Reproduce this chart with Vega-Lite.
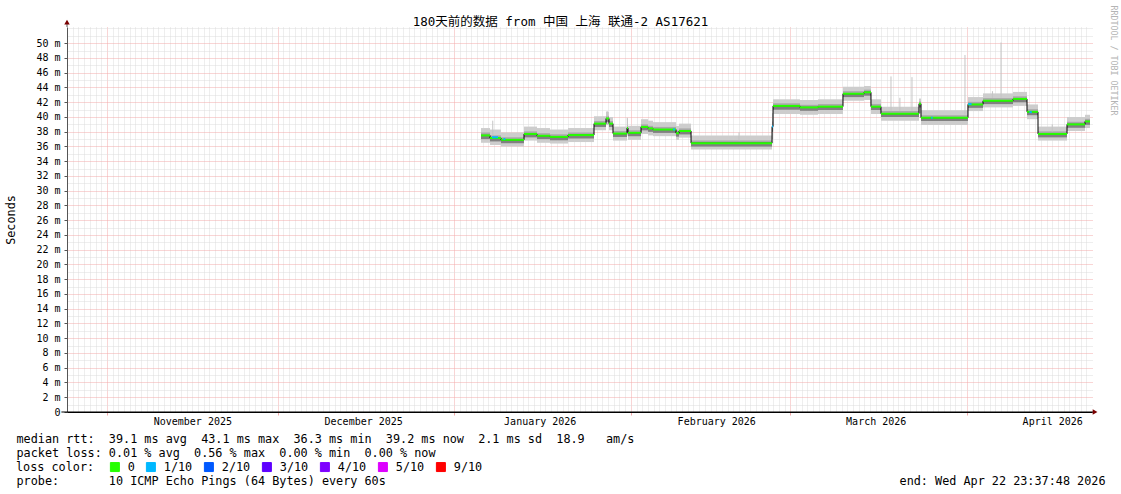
{
  "$schema": "https://vega.github.io/schema/vega-lite/v6.json",
  "width": 1025,
  "height": 385,
  "autosize": "none",
  "padding": {"left": 67, "top": 27, "right": 29, "bottom": 82},
  "background": "white",
  "config": {"view": {"stroke": null}, "font": "DejaVu Sans Mono"},
  "title": {"text": "180天前的数据 from 中国 上海 联通-2 AS17621", "font": "DejaVu Sans Mono, Noto Sans CJK SC", "fontSize": 12.5, "fontWeight": "normal", "color": "#000", "anchor": "middle", "frame": "group", "dx": -19, "dy": 27, "offset": 4},
  "datasets": {
    "seg": [
      {"t": "2026-01-05T16:32:00Z", "t2": "2026-01-07T06:27:00Z", "med": 37.5, "min": 36.5, "max": 38.5, "q1": 37.0, "q3": 37.9, "loss": "0"},
      {"t": "2026-01-07T06:27:00Z", "t2": "2026-01-09T04:49:00Z", "med": 37.15, "min": 36.2, "max": 38.3, "q1": 36.7, "q3": 37.5, "loss": "0"},
      {"t": "2026-01-09T04:49:00Z", "t2": "2026-01-13T05:45:00Z", "med": 36.9, "min": 36.0, "max": 37.9, "q1": 36.45, "q3": 37.25, "loss": "0"},
      {"t": "2026-01-13T05:45:00Z", "t2": "2026-01-15T12:33:00Z", "med": 37.7, "min": 36.8, "max": 38.7, "q1": 37.25, "q3": 38.05, "loss": "0"},
      {"t": "2026-01-15T12:33:00Z", "t2": "2026-01-17T19:20:00Z", "med": 37.45, "min": 36.5, "max": 38.5, "q1": 37.0, "q3": 37.8, "loss": "0"},
      {"t": "2026-01-17T19:20:00Z", "t2": "2026-01-20T23:12:00Z", "med": 37.3, "min": 36.4, "max": 38.3, "q1": 36.85, "q3": 37.65, "loss": "0"},
      {"t": "2026-01-20T23:12:00Z", "t2": "2026-01-25T12:48:00Z", "med": 37.55, "min": 36.6, "max": 38.5, "q1": 37.1, "q3": 37.9, "loss": "0"},
      {"t": "2026-01-25T12:48:00Z", "t2": "2026-01-27T15:22:00Z", "med": 39.1, "min": 38.2, "max": 40.1, "q1": 38.65, "q3": 39.45, "loss": "0"},
      {"t": "2026-01-27T15:22:00Z", "t2": "2026-01-28T04:00:00Z", "med": 39.8, "min": 38.9, "max": 40.7, "q1": 39.35, "q3": 40.15, "loss": "0"},
      {"t": "2026-01-28T04:00:00Z", "t2": "2026-01-28T20:52:00Z", "med": 39.1, "min": 38.2, "max": 40.0, "q1": 38.65, "q3": 39.45, "loss": "0"},
      {"t": "2026-01-28T20:52:00Z", "t2": "2026-01-31T07:52:00Z", "med": 37.75, "min": 36.8, "max": 38.7, "q1": 37.3, "q3": 38.1, "loss": "0"},
      {"t": "2026-01-31T07:52:00Z", "t2": "2026-01-31T12:06:00Z", "med": 38.5, "min": 37.5, "max": 39.8, "q1": 38.0, "q3": 38.9, "loss": "0"},
      {"t": "2026-01-31T12:06:00Z", "t2": "2026-02-02T18:59:00Z", "med": 37.85, "min": 36.9, "max": 38.8, "q1": 37.4, "q3": 38.2, "loss": "0"},
      {"t": "2026-02-02T18:59:00Z", "t2": "2026-02-04T00:30:00Z", "med": 38.65, "min": 37.7, "max": 39.7, "q1": 38.2, "q3": 39.0, "loss": "0"},
      {"t": "2026-02-04T00:30:00Z", "t2": "2026-02-04T21:34:00Z", "med": 38.45, "min": 37.5, "max": 39.5, "q1": 38.0, "q3": 38.8, "loss": "0"},
      {"t": "2026-02-04T21:34:00Z", "t2": "2026-02-08T22:30:00Z", "med": 38.3, "min": 37.4, "max": 39.3, "q1": 37.85, "q3": 38.65, "loss": "0"},
      {"t": "2026-02-08T22:30:00Z", "t2": "2026-02-09T11:08:00Z", "med": 37.8, "min": 36.9, "max": 38.8, "q1": 37.35, "q3": 38.15, "loss": "0"},
      {"t": "2026-02-09T11:08:00Z", "t2": "2026-02-11T13:43:00Z", "med": 38.1, "min": 37.2, "max": 39.1, "q1": 37.65, "q3": 38.45, "loss": "0"},
      {"t": "2026-02-11T13:43:00Z", "t2": "2026-02-25T19:06:00Z", "med": 36.45, "min": 35.6, "max": 37.5, "q1": 36.0, "q3": 36.8, "loss": "0"},
      {"t": "2026-02-25T19:06:00Z", "t2": "2026-02-25T23:20:00Z", "med": 38.7, "min": 37.0, "max": 40.5, "q1": 38.0, "q3": 39.4, "loss": "1/10"},
      {"t": "2026-02-25T23:20:00Z", "t2": "2026-03-02T16:52:00Z", "med": 41.5, "min": 40.4, "max": 42.4, "q1": 41.0, "q3": 41.85, "loss": "0"},
      {"t": "2026-03-02T16:52:00Z", "t2": "2026-03-05T20:44:00Z", "med": 41.3, "min": 40.3, "max": 42.3, "q1": 40.85, "q3": 41.65, "loss": "0"},
      {"t": "2026-03-05T20:44:00Z", "t2": "2026-03-10T06:07:00Z", "med": 41.4, "min": 40.4, "max": 42.4, "q1": 40.95, "q3": 41.75, "loss": "0"},
      {"t": "2026-03-10T06:07:00Z", "t2": "2026-03-13T22:38:00Z", "med": 43.15, "min": 42.2, "max": 44.1, "q1": 42.7, "q3": 43.5, "loss": "0"},
      {"t": "2026-03-13T22:38:00Z", "t2": "2026-03-15T04:07:00Z", "med": 43.35, "min": 42.3, "max": 44.2, "q1": 42.9, "q3": 43.7, "loss": "0"},
      {"t": "2026-03-15T04:07:00Z", "t2": "2026-03-16T22:16:00Z", "med": 41.4, "min": 40.4, "max": 42.4, "q1": 40.95, "q3": 41.75, "loss": "0"},
      {"t": "2026-03-16T22:16:00Z", "t2": "2026-03-23T14:25:00Z", "med": 40.45, "min": 39.5, "max": 41.4, "q1": 40.0, "q3": 40.8, "loss": "0"},
      {"t": "2026-03-23T14:25:00Z", "t2": "2026-03-23T22:52:00Z", "med": 41.8, "min": 40.5, "max": 42.5, "q1": 41.3, "q3": 42.1, "loss": "0"},
      {"t": "2026-03-23T22:52:00Z", "t2": "2026-04-01T04:56:00Z", "med": 39.9, "min": 38.9, "max": 40.9, "q1": 39.45, "q3": 40.25, "loss": "0"},
      {"t": "2026-04-01T04:56:00Z", "t2": "2026-04-03T20:17:00Z", "med": 41.7, "min": 40.8, "max": 42.7, "q1": 41.25, "q3": 42.05, "loss": "0"},
      {"t": "2026-04-03T20:17:00Z", "t2": "2026-04-09T02:43:00Z", "med": 42.2, "min": 41.3, "max": 43.2, "q1": 41.75, "q3": 42.55, "loss": "0"},
      {"t": "2026-04-09T02:43:00Z", "t2": "2026-04-11T13:43:00Z", "med": 42.45, "min": 41.5, "max": 43.4, "q1": 42.0, "q3": 42.8, "loss": "0"},
      {"t": "2026-04-11T13:43:00Z", "t2": "2026-04-13T12:06:00Z", "med": 40.7, "min": 39.7, "max": 41.7, "q1": 40.25, "q3": 41.05, "loss": "0"},
      {"t": "2026-04-13T12:06:00Z", "t2": "2026-04-18T14:18:00Z", "med": 37.7, "min": 36.8, "max": 38.7, "q1": 37.25, "q3": 38.05, "loss": "0"},
      {"t": "2026-04-18T14:18:00Z", "t2": "2026-04-21T18:10:00Z", "med": 39.0, "min": 38.1, "max": 40.0, "q1": 38.55, "q3": 39.35, "loss": "0"},
      {"t": "2026-04-21T18:10:00Z", "t2": "2026-04-22T15:14:00Z", "med": 39.4, "min": 38.5, "max": 40.3, "q1": 38.95, "q3": 39.75, "loss": "0"},
      {"t": "2026-04-22T15:14:00Z", "t2": "2026-04-22T15:14:00Z", "med": 39.4, "min": 39.4, "max": 39.4, "q1": 39.4, "q3": 39.4, "loss": "0"}
    ],
    "blue": [
      {"t": "2026-01-07T14:54:00Z", "t2": "2026-01-08T16:10:00Z", "med": 37.25, "loss": "1/10"},
      {"t": "2026-01-09T15:00:00Z", "t2": "2026-01-09T23:00:00Z", "med": 37.0, "loss": "1/10"},
      {"t": "2026-02-08T10:00:00Z", "t2": "2026-02-08T18:00:00Z", "med": 38.3, "loss": "1/10"},
      {"t": "2026-03-25T18:00:00Z", "t2": "2026-03-26T00:00:00Z", "med": 39.9, "loss": "1/10"},
      {"t": "2026-04-01T06:00:00Z", "t2": "2026-04-01T20:00:00Z", "med": 41.75, "loss": "1/10"},
      {"t": "2026-04-12T00:00:00Z", "t2": "2026-04-12T10:00:00Z", "med": 40.65, "loss": "1/10"}
    ],
    "spikes": [
      {"t": "2026-01-07T18:00:00Z", "lo": 37.5, "hi": 39.5},
      {"t": "2026-01-27T20:00:00Z", "lo": 39.8, "hi": 40.8},
      {"t": "2026-01-31T09:00:00Z", "lo": 38.5, "hi": 39.9},
      {"t": "2026-02-20T00:00:00Z", "lo": 36.8, "hi": 37.9},
      {"t": "2026-03-18T16:25:00Z", "lo": 40.8, "hi": 45.5},
      {"t": "2026-03-20T06:00:00Z", "lo": 40.8, "hi": 42.6},
      {"t": "2026-03-22T08:55:00Z", "lo": 40.8, "hi": 45.4},
      {"t": "2026-03-31T16:17:00Z", "lo": 40.3, "hi": 48.4},
      {"t": "2026-04-05T12:00:00Z", "lo": 42.6, "hi": 43.5},
      {"t": "2026-04-07T00:08:00Z", "lo": 42.6, "hi": 50.1},
      {"t": "2026-04-16T00:00:00Z", "lo": 38.0, "hi": 39.0}
    ],
    "ext": [
      {"kind": "y", "t": "2025-10-24T23:37:48Z", "t2": "2025-10-24T23:37:48Z", "v": 52.2, "v2": 52.8},
      {"kind": "x", "t": "2025-10-24T00:00:00Z", "t2": "2026-04-23T12:00:00Z", "v": 0, "v2": 0}
    ],
    "arrows": [
      {"kind": "up", "t": "2025-10-24T23:37:48Z", "v": 52.85},
      {"kind": "right", "t": "2026-04-23T12:30:00Z", "v": 0}
    ]
  },
  "encoding": {
    "x": {
      "field": "t", "type": "temporal",
      "scale": {"type": "utc", "domain": [
        {"year": 2025, "month": 10, "date": 24, "hours": 23, "minutes": 37, "seconds": 48, "utc": true},
        {"year": 2026, "month": 4, "date": 22, "hours": 23, "minutes": 37, "seconds": 48, "utc": true}]},
      "axis": {
        "tickCount": {"interval": "day", "step": 1},
        "grid": true,
        "gridColor": {"condition": {"test": "utcdate(datum.value) == 1", "value": "#f2aaaa"}, "value": "#dcdcdc"},
        "gridDash": [1, 1],
        "gridWidth": 1,
        "ticks": true,
        "tickSize": 3,
        "tickColor": {"condition": {"test": "utcdate(datum.value) == 1", "value": "#f2aaaa"}, "value": "rgba(0,0,0,0)"},
        "labelExpr": "utcdate(datum.value) == 16 ? utcFormat(datum.value, '%B %Y') : ''",
        "labelOverlap": false,
        "labelFlush": false,
        "labelFont": "DejaVu Sans Mono",
        "labelFontSize": 10,
        "labelColor": "#000",
        "labelPadding": 1,
        "domainColor": "#000",
        "title": [
          "median rtt:\u00a0\u00a039.1\u00a0ms\u00a0avg\u00a0\u00a043.1\u00a0ms\u00a0max\u00a0\u00a036.3\u00a0ms\u00a0min\u00a0\u00a039.2\u00a0ms\u00a0now\u00a0\u00a02.1\u00a0ms\u00a0sd\u00a0\u00a018.9\u00a0\u00a0\u00a0am/s",
          "packet\u00a0loss:\u00a00.01\u00a0%\u00a0avg\u00a0\u00a00.56\u00a0%\u00a0max\u00a0\u00a00.00\u00a0%\u00a0min\u00a0\u00a00.00\u00a0%\u00a0now"
        ],
        "titleFont": "DejaVu Sans Mono",
        "titleFontSize": 11.8,
        "titleFontWeight": "normal",
        "titleColor": "#000",
        "titleAlign": "left",
        "titleAnchor": "start",
        "titleBaseline": "alphabetic",
        "titleX": -51,
        "titleY": 30,
        "titleLineHeight": 14
      }
    }
  },
  "resolve": {"axis": {"y": "independent"}},
  "layer": [
    {
      "data": {"name": "seg"},
      "mark": {"type": "rect", "color": "#cdcdcd"},
      "encoding": {
        "x2": {"field": "t2"},
        "y": {"field": "min", "type": "quantitative", "scale": {"domain": [0, 52.2], "nice": false, "zero": true},
          "axis": {
            "values": [0,1,2,3,4,5,6,7,8,9,10,11,12,13,14,15,16,17,18,19,20,21,22,23,24,25,26,27,28,29,30,31,32,33,34,35,36,37,38,39,40,41,42,43,44,45,46,47,48,49,50,51,52],
            "grid": true,
            "gridColor": {"condition": {"test": "datum.value % 2 == 0 && datum.value <= 50", "value": "#f2aaaa"}, "value": "#dcdcdc"},
            "gridDash": [1, 1],
            "tickSize": 3,
            "tickColor": {"condition": {"test": "datum.value % 2 == 0 && datum.value <= 50", "value": "#555"}, "value": "rgba(0,0,0,0)"},
            "labelExpr": "datum.value == 0 ? '0\u00a0\u00a0' : ((datum.value % 2 == 0 && datum.value <= 50) ? datum.value + '\u00a0m' : '')",
            "labelOverlap": false,
            "labelFont": "DejaVu Sans Mono",
            "labelFontSize": 10,
            "labelColor": "#000",
            "labelPadding": 4,
            "domainColor": "#555",
            "title": "Seconds",
            "titleFont": "DejaVu Sans Mono",
            "titleFontSize": 11.8,
            "titleFontWeight": "normal",
            "titleColor": "#000",
            "titleAngle": 270,
            "titleAlign": "center",
            "titleBaseline": "middle",
            "titleX": -57,
            "titleY": 192.5
          }},
        "y2": {"field": "max"}
      }
    },
    {
      "data": {"name": "seg"},
      "mark": {"type": "rect", "color": "#a8a8a8"},
      "encoding": {
        "x2": {"field": "t2"},
        "y": {"field": "q1", "type": "quantitative", "scale": {"domain": [0, 52.2], "nice": false, "zero": true}, "axis": null},
        "y2": {"field": "q3"}
      }
    },
    {
      "data": {"name": "seg"},
      "mark": {"type": "rect", "color": "#808080"},
      "encoding": {
        "x2": {"field": "t2"},
        "y": {"field": "q1", "type": "quantitative", "scale": {"domain": [0, 52.2], "nice": false, "zero": true}, "axis": null},
        "y2": {"field": "med"}
      }
    },
    {
      "data": {"name": "spikes"},
      "mark": {"type": "rule", "color": "#c4c4c4", "strokeWidth": 1},
      "encoding": {
        "y": {"field": "lo", "type": "quantitative", "scale": {"domain": [0, 52.2], "nice": false, "zero": true},
          "axis": {"orient": "right", "labels": false, "ticks": false, "domain": false, "grid": false,
            "title": "RRDTOOL / TOBI OETIKER", "titleFont": "DejaVu Sans Mono", "titleFontSize": 8.3, "titleFontWeight": "normal",
            "titleColor": "#b4b4b4", "titleAngle": 90, "titleAlign": "center", "titleBaseline": "middle", "titleX": 20, "titleY": 33}},
        "y2": {"field": "hi"}
      }
    },
    {
      "data": {"name": "seg"},
      "mark": {"type": "line", "color": "#000", "strokeWidth": 1, "interpolate": "step-after"},
      "encoding": {
        "y": {"field": "med", "type": "quantitative", "scale": {"domain": [0, 52.2], "nice": false, "zero": true}, "axis": null}
      }
    },
    {
      "data": {"name": "seg"},
      "mark": {"type": "rule", "strokeWidth": 2},
      "encoding": {
        "x2": {"field": "t2"},
        "y": {"field": "med", "type": "quantitative", "scale": {"domain": [0, 52.2], "nice": false, "zero": true}, "axis": null},
        "color": {"field": "loss", "type": "nominal",
          "scale": {"domain": ["0", "1/10", "2/10", "3/10", "4/10", "5/10", "9/10"],
                    "range": ["#26ff00", "#00b8ff", "#0059ff", "#5e00ff", "#7e00ff", "#dd00ff", "#ff0000"]},
          "legend": {
            "orient": "none", "legendX": -51, "legendY": 434, "direction": "horizontal", "columns": 7,
            "title": "loss color:", "titleOrient": "left", "titleFont": "DejaVu Sans Mono", "titleFontSize": 11.8,
            "titleFontWeight": "normal", "titleColor": "#000", "titlePadding": 14,
            "labelFont": "DejaVu Sans Mono", "labelFontSize": 11.8, "labelColor": "#000", "labelOffset": 7,
            "columnPadding": 9, "symbolType": "square", "symbolSize": 81, "symbolStrokeColor": "#000", "symbolStrokeWidth": 1,
            "encode": {"symbols": {"update": {"fill": {"scale": "color", "field": "value"}, "stroke": {"value": "#000"}, "strokeWidth": {"value": 1}, "shape": {"value": "square"}, "size": {"value": 81}, "opacity": {"value": 1}}}}
          }}
      }
    },
    {
      "data": {"name": "blue"},
      "mark": {"type": "rule", "strokeWidth": 2},
      "encoding": {
        "x2": {"field": "t2"},
        "y": {"field": "med", "type": "quantitative", "scale": {"domain": [0, 52.2], "nice": false, "zero": true}, "axis": null},
        "color": {"field": "loss", "type": "nominal"}
      }
    },
    {
      "data": {"name": "ext"},
      "transform": [{"filter": "datum.kind == 'y'"}],
      "mark": {"type": "rule", "color": "#555", "strokeWidth": 1},
      "encoding": {
        "x2": {"field": "t2"},
        "y": {"field": "v", "type": "quantitative", "scale": {"domain": [0, 52.2], "nice": false, "zero": true}, "axis": null},
        "y2": {"field": "v2"}
      }
    },
    {
      "data": {"name": "ext"},
      "transform": [{"filter": "datum.kind == 'x'"}],
      "mark": {"type": "rule", "color": "#000", "strokeWidth": 1},
      "encoding": {
        "x2": {"field": "t2"},
        "y": {"field": "v", "type": "quantitative", "scale": {"domain": [0, 52.2], "nice": false, "zero": true}, "axis": null},
        "y2": {"field": "v2"}
      }
    },
    {
      "data": {"name": "arrows"},
      "transform": [{"filter": "datum.kind == 'up'"}],
      "mark": {"type": "point", "shape": "triangle-up", "filled": true, "color": "#7a0000", "size": 30, "opacity": 1},
      "encoding": {
        "y": {"field": "v", "type": "quantitative", "scale": {"domain": [0, 52.2], "nice": false, "zero": true},
          "axis": {"orient": "right", "labels": false, "ticks": false, "domain": false, "grid": false,
            "title": "end:\u00a0Wed\u00a0Apr\u00a022\u00a023:37:48\u00a02026", "titleFont": "DejaVu Sans Mono", "titleFontSize": 11.8, "titleFontWeight": "normal",
            "titleColor": "#000", "titleAngle": 0, "titleAlign": "right", "titleBaseline": "alphabetic", "titleX": 13, "titleY": 457}}
      }
    },
    {
      "data": {"name": "arrows"},
      "transform": [{"filter": "datum.kind == 'right'"}],
      "mark": {"type": "point", "shape": "triangle-right", "filled": true, "color": "#7a0000", "size": 30, "opacity": 1},
      "encoding": {
        "y": {"field": "v", "type": "quantitative", "scale": {"domain": [0, 52.2], "nice": false, "zero": true},
          "axis": {"orient": "right", "labels": false, "ticks": false, "domain": false, "grid": false,
            "title": "probe:\u00a0\u00a0\u00a0\u00a0\u00a0\u00a0\u00a010\u00a0ICMP\u00a0Echo\u00a0Pings\u00a0(64\u00a0Bytes)\u00a0every\u00a060s", "titleFont": "DejaVu Sans Mono", "titleFontSize": 11.8, "titleFontWeight": "normal",
            "titleColor": "#000", "titleAngle": 0, "titleAlign": "left", "titleBaseline": "alphabetic", "titleX": -1076, "titleY": 457}}
      }
    }
  ]
}
